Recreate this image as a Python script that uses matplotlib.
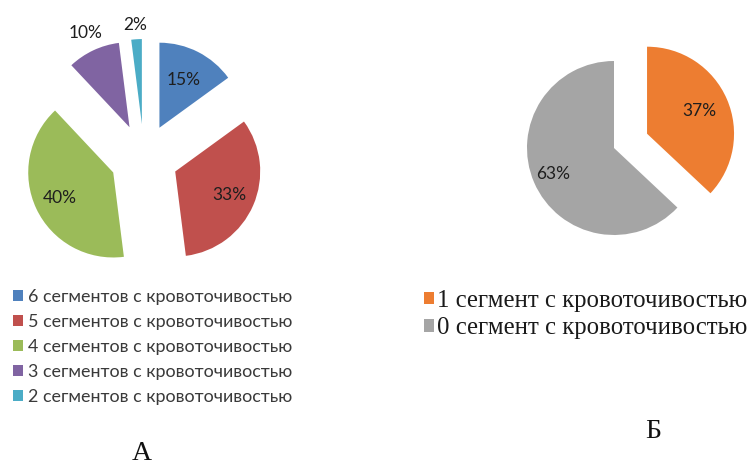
import matplotlib
matplotlib.use("Agg")
import matplotlib.pyplot as plt
import numpy as np

# Panel A: number of bleeding segments
labels_a = ["6 сегментов с кровоточивостью",
            "5 сегментов с кровоточивостью",
            "4 сегментов с кровоточивостью",
            "3 сегментов с кровоточивостью",
            "2 сегментов с кровоточивостью"]
values_a = [15, 33, 40, 10, 2]
colors_a = ["#4F81BD", "#C0504D", "#9BBB59", "#8064A2", "#4BACC6"]

# Panel Б
labels_b = ["1 сегмент с кровоточивостью",
            "0 сегмент с кровоточивостью"]
values_b = [37, 63]
colors_b = ["#ED7D31", "#A5A5A5"]

panel_titles = ["А", "Б"]

W, H = 748, 468
fig = plt.figure(figsize=(W / 100, H / 100), dpi=100)
ax = fig.add_axes([0, 0, 1, 1])
ax.set_xlim(0, W)
ax.set_ylim(0, H)
ax.set_aspect("equal")
ax.axis("off")

pct_font = dict(family=["Lato", "DejaVu Sans"], size=12.5, color="#1e1e1e")


def draw_pie(values, colors, center, radius, explode, pct_dist):
    wedges, _, autotexts = ax.pie(
        values, colors=colors, startangle=90, counterclock=False,
        center=center, radius=radius, explode=explode,
        autopct="%1.0f%%", textprops=pct_font,
        wedgeprops=dict(linewidth=0), frame=True)
    # move each percentage along its wedge's bisector
    for w, t, d in zip(wedges, autotexts, pct_dist):
        ang = np.deg2rad(0.5 * (w.theta1 + w.theta2))
        cx, cy = w.center
        t.set_position((cx + d * radius * np.cos(ang),
                        cy + d * radius * np.sin(ang)))
    return wedges


wa = draw_pie(values_a, colors_a, (144, H - 158), 85,
              [34] * len(values_a), [0.63, 0.70, 0.70, 1.22, 1.17])
wb = draw_pie(values_b, colors_b, (614, H - 148), 87,
              [36, 0], [0.66, 0.76])

ax.set_xlim(0, W)
ax.set_ylim(0, H)
ax.axis("off")

leg_a = ax.legend(wa, labels_a, loc="upper left",
                  bbox_to_anchor=(13 / W, 1 - 289 / H),
                  bbox_transform=fig.transFigure, frameon=False,
                  prop=dict(family=["Lato", "DejaVu Sans"], size=12.9),
                  handlelength=0.56, handleheight=0.56, handletextpad=0.3,
                  labelspacing=0.5, borderpad=0, borderaxespad=0,
                  labelcolor="#3a3a3a")
ax.add_artist(leg_a)

leg_b = ax.legend(wb, labels_b, loc="upper left",
                  bbox_to_anchor=(424 / W, 1 - 290 / H),
                  bbox_transform=fig.transFigure, frameon=False,
                  prop=dict(family=["Liberation Serif", "DejaVu Serif"], size=17.8),
                  handlelength=0.4, handleheight=0.4, handletextpad=0.12,
                  labelspacing=0.22, borderpad=0, borderaxespad=0,
                  labelcolor="#1a1a1a")

fig.text(142 / W, 1 - 453 / H, panel_titles[0], ha="center", va="center",
         family=["Liberation Serif", "DejaVu Serif"], size=20, color="#111111")
fig.text(653 / W, 1 - 432 / H, panel_titles[1], ha="center", va="center",
         family=["Liberation Serif", "DejaVu Serif"], size=20, color="#111111")

fig.savefig("out.png", dpi=100)
